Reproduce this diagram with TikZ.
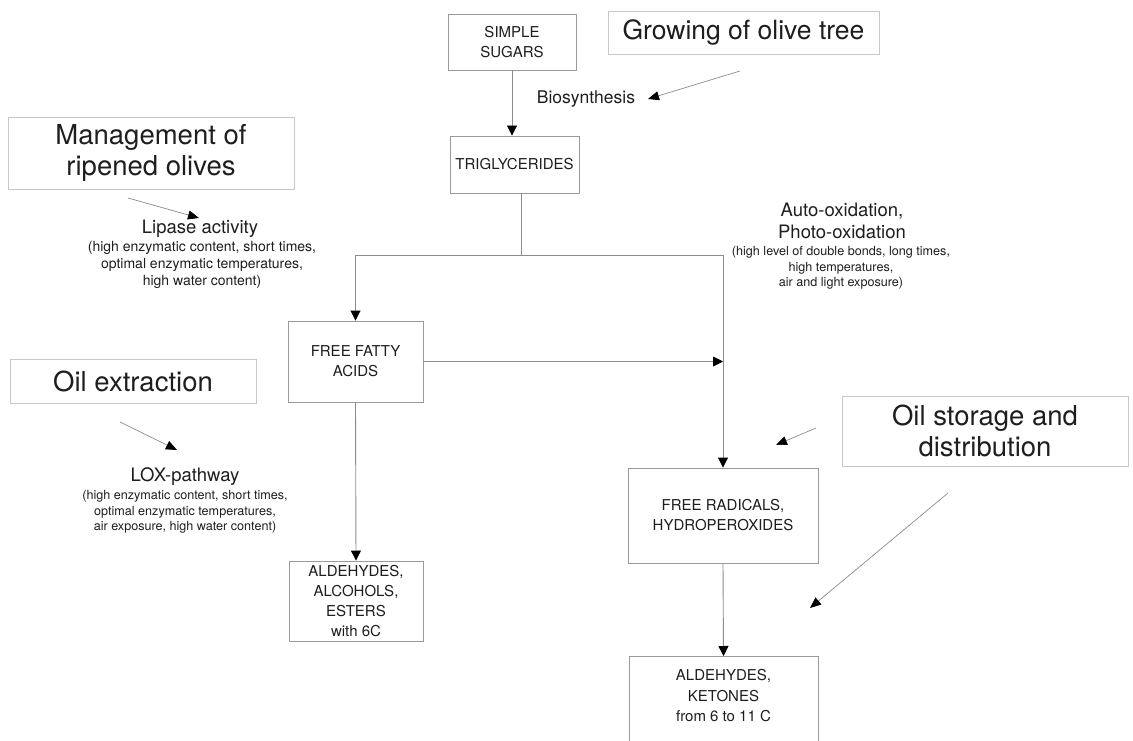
\documentclass[tikz,border=0pt]{standalone}
\usepackage{fontspec}
\setmainfont{TeX Gyre Heros}
\usetikzlibrary{arrows.meta,calc}
\definecolor{txt}{HTML}{1E1E1E}
\definecolor{edgec}{HTML}{9A9A9A}
\definecolor{lbledge}{HTML}{C8C8C8}
\definecolor{conn}{HTML}{8C8C8C}
\begin{document}
\begin{tikzpicture}[x=1pt,y=-1pt,
  stepbox/.style={draw=edgec, line width=0.9pt, text=txt, font=\fontsize{15}{20}\selectfont, align=center, inner sep=0pt},
  lblbox/.style={draw=lbledge, line width=0.9pt, text=txt, font=\fontsize{27.5}{31}\selectfont, align=center, inner sep=0pt},
  steptext/.style={text=txt, font=\fontsize{15}{20.5}\selectfont, align=center, inner sep=0pt},
  ttl/.style={text=txt, font=\fontsize{18.5}{22}\selectfont, align=center, inner sep=0pt},
  subA/.style={text=txt, font=\fontsize{14}{16.7}\selectfont, align=center, inner sep=0pt},
  subB/.style={text=txt, font=\fontsize{12.6}{15.3}\selectfont, align=center, inner sep=0pt},
  flow/.style={draw=conn, line width=0.9pt, -{Triangle[width=10pt,length=10pt,color=black]}},
  plainflow/.style={draw=conn, line width=0.9pt},
  note/.style={draw=conn, line width=0.7pt, -{Triangle[width=9pt,length=11pt,color=black]}}]
\useasboundingbox (0,0) rectangle (1133,741);
\fill[white] (0,0) rectangle (1133,741);

% main step boxes
\node[stepbox, minimum width=128pt, minimum height=56pt] (sugars) at (512,42) {SIMPLE\\SUGARS};
\node[stepbox, minimum width=129pt, minimum height=57pt] (trig) at (514.5,164.5) {TRIGLYCERIDES};
\node[stepbox, minimum width=135pt, minimum height=81pt] (ffa) at (355.5,361.5) {FREE FATTY\\ACIDS};
\node[stepbox, minimum width=134pt, minimum height=80pt] (ald1) at (356,601) {ALDEHYDES,\\ALCOHOLS,\\ESTERS\\with 6C};
\node[stepbox, minimum width=190pt, minimum height=95pt] (frad) at (723,515.5) {FREE RADICALS,\\HYDROPEROXIDES};
\node[stepbox, minimum width=189pt, minimum height=110pt, anchor=north] (ald2) at (723.5,656) {};
\node[steptext] (ald2t) at (723.5,696) {ALDEHYDES,\\KETONES\\from 6 to 11 C};

% factor boxes
\node[lblbox, minimum width=271pt, minimum height=43pt, font=\fontsize{26.5}{31}\selectfont] (grow) at (743.5,32.5) {Growing of olive tree};
\node[lblbox, minimum width=286pt, minimum height=72pt] (manage) at (151,153) {Management of\\ripened olives};
\node[lblbox, minimum width=246pt, minimum height=44pt] (oilext) at (133,381) {Oil extraction};
\node[lblbox, minimum width=286pt, minimum height=70pt] (storage) at (985,431) {Oil storage and\\distribution};

% process labels
\node[ttl, font=\fontsize{17.5}{21}\selectfont] (bio) at (586,99) {Biosynthesis};
\node[ttl] (lip) at (200,229) {Lipase activity};
\node[subA] (lipsub) at (202,265) {(high enzymatic content, short times,\\optimal enzymatic temperatures,\\high water content)};
\node[ttl] (lox) at (185,477) {LOX-pathway};
\node[subB] (loxsub) at (185,512) {(high enzymatic content, short times,\\optimal enzymatic temperatures,\\air exposure, high water content)};
\node[ttl] (auto) at (842,221) {Auto-oxidation,\\Photo-oxidation};
\node[subB] (autosub) at (841,268) {(high level of double bonds, long times,\\high temperatures,\\air and light exposure)};

% flow connectors
\draw[flow] (sugars.south) -- (sugars.south |- trig.north);
\coordinate (split) at (521,255);
\draw[plainflow] (split |- trig.south) -- (split);
\draw[flow] (split) -| (ffa.north);
\draw[flow] (split) -| (frad.north);
\coordinate (join) at (frad.north |- ffa.east);
\draw[flow] (ffa.east) -- (join);
\draw[flow] (ffa.south) -- (ald1.north);
\draw[flow] (frad.south) -- (ald2.north);

% influence arrows
\coordinate (growA) at (740,71);
\coordinate (growB) at (648,99);
\draw[note] (growA) -- (growB);
\coordinate (manA) at (128,198);
\coordinate (manB) at (199,218);
\draw[note] (manA) -- (manB);
\coordinate (extA) at (120,422);
\coordinate (extB) at (177,450);
\draw[note] (extA) -- (extB);
\coordinate (stoA) at (816,428);
\coordinate (stoB) at (776,445);
\draw[note] (stoA) -- (stoB);
\coordinate (stoC) at (948,493);
\coordinate (stoD) at (810,608);
\draw[note] (stoC) -- (stoD);
\end{tikzpicture}
\end{document}
